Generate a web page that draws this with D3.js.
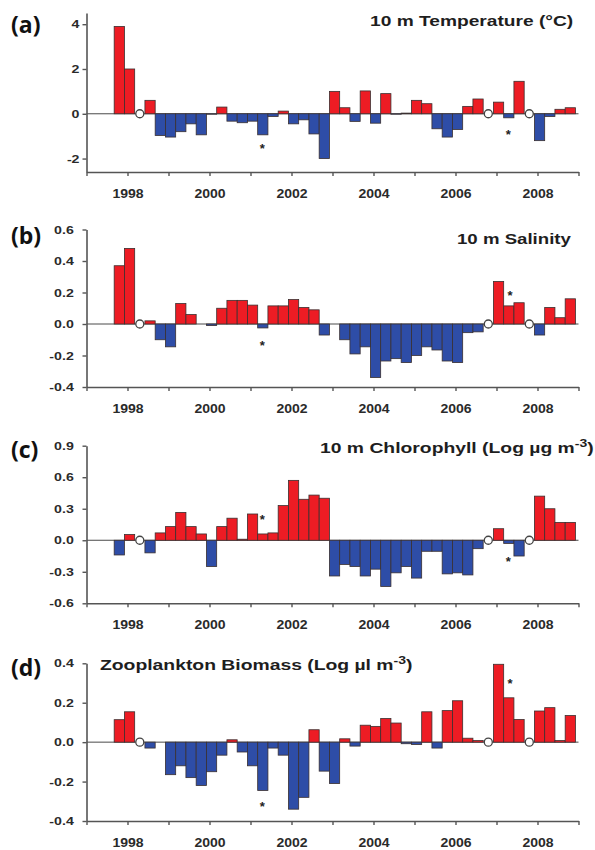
<!DOCTYPE html>
<html><head><meta charset="utf-8">
<script src="https://cdn.jsdelivr.net/npm/d3@7"></script>
<style>body{margin:0;background:#fff}svg{display:block}</style>
</head><body><svg id="c" width="595" height="850"></svg>
<script>
// ---- data ----
const quarters = [1997.80, 1998.05, 1998.30, 1998.55, 1998.80,
  1999.05, 1999.30, 1999.55, 1999.80,
  2000.05, 2000.30, 2000.55, 2000.80,
  2001.05, 2001.30, 2001.55, 2001.80,
  2002.05, 2002.30, 2002.55, 2002.80,
  2003.05, 2003.30, 2003.55, 2003.80,
  2004.05, 2004.30, 2004.55, 2004.80,
  2005.05, 2005.30, 2005.55, 2005.80,
  2006.05, 2006.30, 2006.55, 2006.80,
  2007.05, 2007.30, 2007.55, 2007.80,
  2008.05, 2008.30, 2008.55, 2008.80];

const temperature = [3.9, 2.0, null, 0.6, -0.97,
  -1.04, -0.8, -0.45, -0.94,
  -0.02, 0.3, -0.33, -0.4,
  -0.33, -0.94, -0.12, 0.12,
  -0.45, -0.27, -0.9, -2.0,
  1.0, 0.27, -0.34, 1.02,
  -0.42, 0.9, -0.02, 0.03,
  0.6, 0.45, -0.67, -1.04,
  -0.7, 0.33, 0.66, null,
  0.52, -0.18, 1.45, null,
  -1.2, -0.12, 0.2, 0.27];

const salinity = [0.37, 0.48, null, 0.02, -0.10,
  -0.145, 0.13, 0.06, 0,
  -0.01, 0.10, 0.15, 0.15,
  0.12, -0.025, 0.115, 0.115,
  0.155, 0.105, 0.09, -0.07,
  0, -0.10, -0.19, -0.145,
  -0.34, -0.235, -0.22, -0.245,
  -0.20, -0.145, -0.165, -0.235,
  -0.245, -0.055, -0.05, null,
  0.27, 0.115, 0.135, null,
  -0.07, 0.105, 0.04, 0.16];

const chlorophyll = [-0.14, 0.055, null, -0.12, 0.07,
  0.13, 0.265, 0.13, 0.06,
  -0.25, 0.13, 0.21, 0.01,
  0.25, 0.06, 0.07, 0.33,
  0.57, 0.39, 0.43, 0.40,
  -0.34, -0.23, -0.25, -0.34,
  -0.275, -0.44, -0.31, -0.25,
  -0.36, -0.105, -0.105, -0.32,
  -0.31, -0.33, -0.08, null,
  0.11, -0.03, -0.15, null,
  0.42, 0.30, 0.17, 0.17];

const zooplankton = [0.114, 0.154, null, -0.03, 0,
  -0.165, -0.12, -0.18, -0.22,
  -0.15, -0.066, 0.012, -0.05,
  -0.12, -0.245, -0.03, -0.066,
  -0.34, -0.28, 0.063, -0.147,
  -0.21, 0.017, -0.02, 0.086,
  0.08, 0.12, 0.097, -0.008,
  -0.012, 0.154, -0.03, 0.16,
  0.21, 0.02, 0.008, null,
  0.395, 0.225, 0.115, null,
  0.158, 0.175, 0.008, 0.135];

// asterisks (time, value position)
const tempStars = [[2001.29, -1.44], [2007.29, -0.80]];
const salStars = [[2001.29, -0.119], [2007.33, 0.201]];
const chlStars = [[2001.29, 0.224], [2007.29, -0.178]];
const zooStars = [[2001.29, -0.31], [2007.33, 0.31]];

const yearTicks = [1997, 1998, 1999, 2000, 2001, 2002, 2003, 2004, 2005, 2006, 2007, 2008, 2009];
const yearLabels = ["", "1998", "", "2000", "", "2002", "", "2004", "", "2006", "", "2008", ""];

const tempTicks = [-2, 0, 2, 4];
const tempTickLabels = ["-2", "0", "2", "4"];
const salTicks = [-0.4, -0.2, 0, 0.2, 0.4, 0.6];
const salTickLabels = ["-0.4", "-0.2", "0.0", "0.2", "0.4", "0.6"];
const chlTicks = [-0.6, -0.3, 0, 0.3, 0.6, 0.9];
const chlTickLabels = ["-0.6", "-0.3", "0.0", "0.3", "0.6", "0.9"];
const zooTicks = [-0.4, -0.2, 0, 0.2, 0.4];
const zooTickLabels = ["-0.4", "-0.2", "0.0", "0.2", "0.4"];

const panelLetters = ["(a)", "(b)", "(c)", "(d)"];

// ---- layout ----
const RED = "#ED1C24", BLUE = "#2E4DA7";
const svg = d3.select("#c");
const x = d3.scaleLinear().domain([1997, 2009]).range([86.5, 578.5]);

const panels = [
  {letter: panelLetters[0], values: temperature, stars: tempStars, ticks: tempTicks, tickLabels: tempTickLabels,
   domain: [-2.6, 4.5], top: 13, bottom: 172, labelRight: 79.5, letterBase: 32.5,
   title: [{t: "10 m Temperature (°C)"}], titleX: [370, 573.5], titleBase: 25.5},
  {letter: panelLetters[1], values: salinity, stars: salStars, ticks: salTicks, tickLabels: salTickLabels,
   domain: [-0.4, 0.6], top: 229.5, bottom: 387, labelRight: 73.8, letterBase: 244,
   title: [{t: "10 m Salinity"}], titleX: [457, 571], titleBase: 244},
  {letter: panelLetters[2], values: chlorophyll, stars: chlStars, ticks: chlTicks, tickLabels: chlTickLabels,
   domain: [-0.6, 0.9], top: 445.7, bottom: 603.3, labelRight: 73.8, letterBase: 457.5,
   title: [{t: "10 m Chlorophyll (Log µg m"}, {t: "-3", sup: true}, {t: ")", after: true}], titleX: [320, 594], titleBase: 453.3},
  {letter: panelLetters[3], values: zooplankton, stars: zooStars, ticks: zooTicks, tickLabels: zooTickLabels,
   domain: [-0.4, 0.4], top: 663.3, bottom: 821, labelRight: 73.8, letterBase: 675.5,
   title: [{t: "Zooplankton Biomass (Log µl m"}, {t: "-3", sup: true}, {t: ")", after: true}], titleX: [100, 413], titleBase: 670}
];

const FONT = "'Liberation Sans', Arial, Helvetica, sans-serif";

panels.forEach(p => {
  const y = d3.scaleLinear().domain(p.domain).range([p.bottom, p.top]);
  const g = svg.append("g");

  // zero line
  g.append("line")
    .attr("x1", x(1997)).attr("x2", x(2009))
    .attr("y1", y(0)).attr("y2", y(0))
    .attr("stroke", "#4a4a4a").attr("stroke-width", 1);

  const data = quarters.map((t, i) => ({t, v: p.values[i]}));

  g.selectAll("rect.bar").data(data.filter(d => d.v !== null && d.v !== 0)).join("rect")
    .attr("class", "bar")
    .attr("x", d => x(d.t - 0.125))
    .attr("width", d => x(d.t + 0.125) - x(d.t - 0.125))
    .attr("y", d => y(Math.max(0, d.v)))
    .attr("height", d => Math.abs(y(d.v) - y(0)))
    .attr("fill", d => d.v > 0 ? RED : BLUE)
    .attr("stroke", "#3a3030").attr("stroke-width", 0.8);

  g.selectAll("circle.miss").data(data.filter(d => d.v === null)).join("circle")
    .attr("class", "miss")
    .attr("cx", d => x(d.t)).attr("cy", y(0)).attr("r", 4)
    .attr("fill", "#fff").attr("stroke", "#444").attr("stroke-width", 1.3);

  // asterisks
  const sfs = 13;
  g.selectAll("text.star").data(p.stars).join("text")
    .attr("class", "star")
    .attr("x", d => x(d[0])).attr("y", d => y(d[1]) + 0.57 * sfs)
    .attr("text-anchor", "middle")
    .attr("font-family", FONT).attr("font-weight", "bold").attr("font-size", sfs)
    .attr("fill", "#222").text("*");

  // y axis
  const ya = d3.axisLeft(y).tickValues(p.ticks)
    .tickFormat(d => p.tickLabels[p.ticks.indexOf(d)])
    .tickSize(4).tickSizeOuter(0);
  const yg = g.append("g").attr("transform", `translate(${x(1997)},0)`).call(ya);
  yg.select(".domain").attr("stroke", "#555").attr("stroke-width", 1.6);
  yg.selectAll(".tick line").attr("stroke", "#555").attr("stroke-width", 1.4);
  yg.selectAll(".tick text")
    .attr("x", 0).attr("dy", "0.34em")
    .attr("transform", `translate(${-(x(1997) - p.labelRight)},0) scale(1.35,1)`)
    .attr("font-family", FONT).attr("font-weight", "bold").attr("font-size", 10.5)
    .attr("fill", "#2a2a2a");

  // x axis
  const xa = d3.axisBottom(x).tickValues(yearTicks)
    .tickFormat(d => yearLabels[yearTicks.indexOf(d)])
    .tickSize(4).tickSizeOuter(0);
  const xg = g.append("g").attr("transform", `translate(0,${p.bottom})`).call(xa);
  xg.select(".domain").attr("stroke", "#555").attr("stroke-width", 1.6);
  xg.selectAll(".tick line").attr("stroke", "#555").attr("stroke-width", 1.4);
  xg.selectAll(".tick text")
    .attr("y", 26).attr("dy", null)
    .attr("transform", "scale(1.08,1)")
    .attr("font-family", FONT).attr("font-weight", "bold").attr("font-size", 13)
    .attr("fill", "#2a2a2a");

  // panel letter
  g.append("text")
    .attr("x", 11).attr("y", p.letterBase)
    .attr("font-family", "'Open Sans', 'Noto Sans', sans-serif").attr("font-weight", "bold")
    .attr("font-size", 23).attr("fill", "#111")
    .text(p.letter);

  // title
  const tt = g.append("text")
    .attr("x", 0).attr("y", 0)
    .attr("font-family", FONT).attr("font-weight", "bold").attr("font-size", 14.5)
    .attr("fill", "#1e1e1e");
  p.title.forEach(part => {
    const ts = tt.append("tspan").text(part.t);
    if (part.sup) ts.attr("font-size", 10.5).attr("dy", -6.5);
    if (part.after) ts.attr("font-size", 14.5).attr("dy", 6.5);
  });
  const bb = tt.node().getBBox();
  const sx = (p.titleX[1] - p.titleX[0]) / bb.width;
  tt.attr("transform", `translate(${p.titleX[0] - bb.x * sx},${p.titleBase}) scale(${sx},1)`);
});
</script>
</body></html>
